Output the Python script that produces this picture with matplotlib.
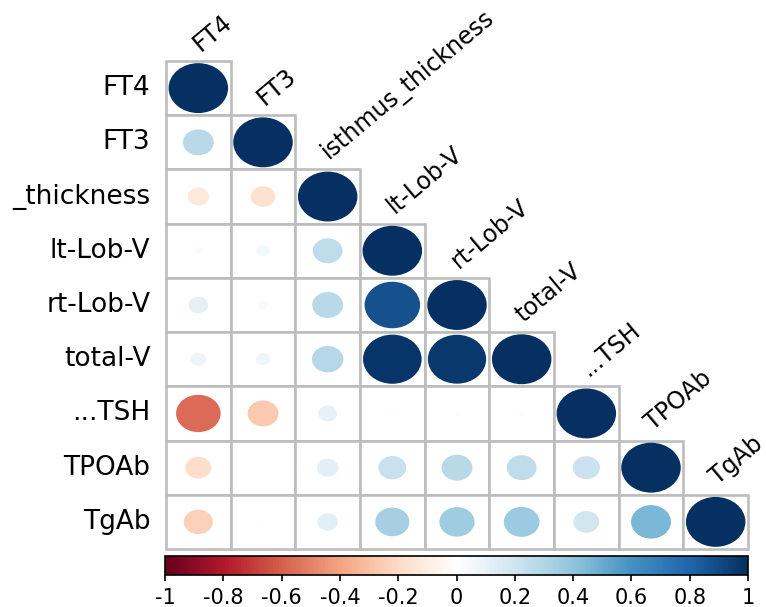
import numpy as np
import matplotlib
matplotlib.use("Agg")
import matplotlib.pyplot as plt
from matplotlib.colors import LinearSegmentedColormap, Normalize
from matplotlib.patches import Ellipse, Rectangle
from matplotlib.colorbar import ColorbarBase

row_labels = ["FT4", "FT3", "_thickness", "lt-Lob-V", "rt-Lob-V", "total-V", "...TSH", "TPOAb", "TgAb"]
col_labels = ["FT4", "FT3", "isthmus_thickness", "lt-Lob-V", "rt-Lob-V", "total-V", "...TSH", "TPOAb", "TgAb"]

# lower triangle correlations (row i, columns 0..i)
r_FT4 = [1.0]
r_FT3 = [0.27, 1.0]
r_thick = [-0.13, -0.17, 1.0]
r_lt = [0.02, 0.05, 0.25, 1.0]
r_rt = [0.11, 0.03, 0.27, 0.87, 1.0]
r_total = [0.07, 0.06, 0.28, 0.97, 0.96, 1.0]
r_TSH = [-0.56, -0.27, 0.10, -0.01, 0.01, 0.01, 1.0]
r_TPOAb = [-0.19, 0.0, 0.13, 0.22, 0.27, 0.25, 0.21, 1.0]
r_TgAb = [-0.24, -0.01, 0.12, 0.33, 0.35, 0.36, 0.19, 0.45, 1.0]
rows = [r_FT4, r_FT3, r_thick, r_lt, r_rt, r_total, r_TSH, r_TPOAb, r_TgAb]

cb_ticks = [-1, -0.8, -0.6, -0.4, -0.2, 0, 0.2, 0.4, 0.6, 0.8, 1]
cb_ticklabels = ["-1", "-0.8", "-0.6", "-0.4", "-0.2", "0", "0.2", "0.4", "0.6", "0.8", "1"]

rdbu = ["#67001F", "#B2182B", "#D6604D", "#F4A582", "#FDDBC7", "#FFFFFF",
        "#D1E5F0", "#92C5DE", "#4393C3", "#2166AC", "#053061"]
cmap = LinearSegmentedColormap.from_list("corrRdBu", rdbu, N=200)
norm = Normalize(-1, 1)

W, H = 766, 607
fig = plt.figure(figsize=(W / 100, H / 100), dpi=100)
plt.rcParams['font.family'] = ['DejaVu Sans']

gl, gr, gt, gb = 166, 748, 61, 549
ax = fig.add_axes([gl / W, 1 - gb / H, (gr - gl) / W, (gb - gt) / H])
n = len(row_labels)
ax.set_xlim(0, n)
ax.set_ylim(n, 0)
ax.axis("off")

for i, vals in enumerate(rows):
    for j, v in enumerate(vals):
        ax.add_patch(Rectangle((j, i), 1, 1, facecolor="white", edgecolor="#BDBDBD",
                               linewidth=1.9, zorder=1, clip_on=False))
for i, vals in enumerate(rows):
    for j, v in enumerate(vals):
        d = 0.92 * np.sqrt(abs(v))
        if d > 0:
            ax.add_patch(Ellipse((j + 0.5, i + 0.5), d, d, facecolor=cmap(norm(v)),
                                 edgecolor="none", zorder=2))

for i, lab in enumerate(row_labels):
    ax.text(-0.24, i + 0.5, lab, ha="right", va="center", fontsize=19, color="black")

for j, lab in enumerate(col_labels):
    ax.text(j + 0.58, j - 0.1, lab, ha="left", va="bottom", rotation=40,
            rotation_mode="anchor", fontsize=17, color="black")

cl, cr, ct, cbt = 165, 748, 556, 575
cax = fig.add_axes([cl / W, 1 - cbt / H, (cr - cl) / W, (cbt - ct) / H])
cb = ColorbarBase(cax, cmap=cmap, norm=norm, orientation="horizontal", ticks=cb_ticks)
cb.set_ticklabels(cb_ticklabels)
cb.outline.set_linewidth(1.2)
cax.tick_params(axis="x", direction="out", length=4, width=1.2, labelsize=15, pad=5)

fig.savefig("out.png", dpi=100)
